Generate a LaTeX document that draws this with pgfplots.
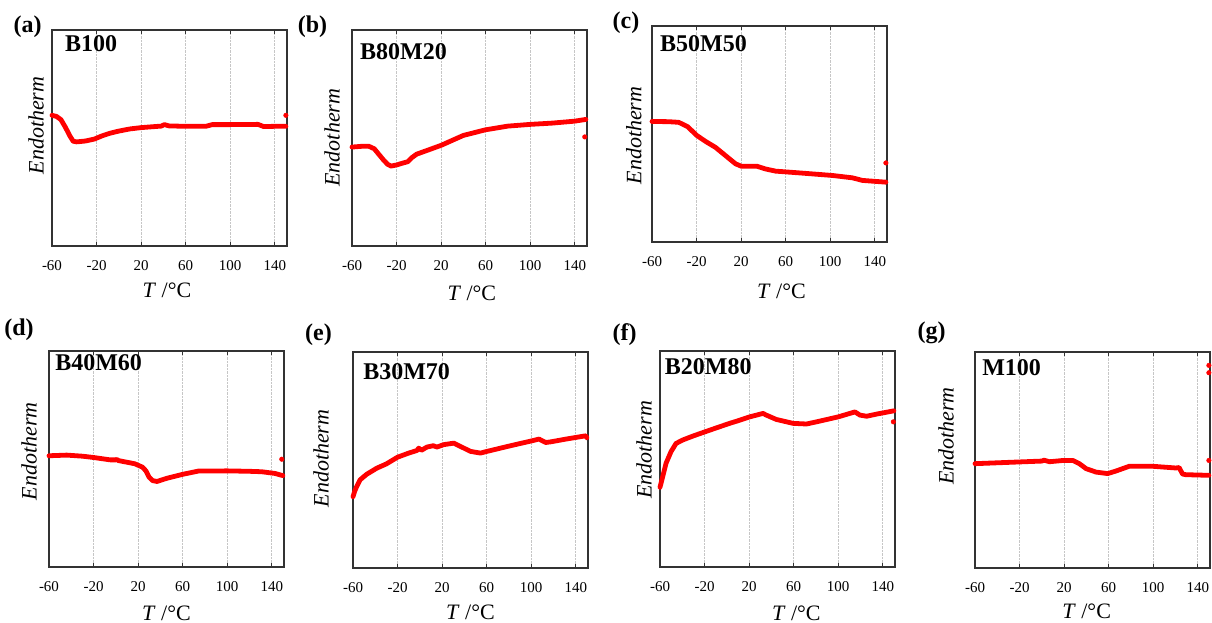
\documentclass[border=0pt]{standalone}
\usepackage{fontspec}
\setmainfont{Liberation Serif}
\usepackage{pgfplots}
\pgfplotsset{compat=1.18}
\pgfplotsset{
 dsc/.style={
  scale only axis, width=235pt, height=216pt, anchor=south west,
  xmin=-60, xmax=151, ymin=0, ymax=100,
  xtick={-60,-20,20,60,100,140}, xticklabels={-60,-20,20,60,100,140},
  ytick=\empty,
  xmajorgrids, grid style={densely dotted, gray!45, line width=0.6pt},
  tick align=inside, major tick length=4pt,
  axis line style={black!80, line width=1.3pt},
  every tick/.style={black!80, line width=0.8pt},
  tick label style={font=\fontsize{15}{17}\selectfont},
  xticklabel style={yshift=-11pt},
  label style={font=\fontsize{22}{26}\selectfont},
  xlabel={\textit{T} /°C},
  ylabel={\textit{Endotherm}},
  clip=false,
 },
 curve/.style={red, line width=4.8pt, line join=round, line cap=round},
 stray/.style={red, only marks, mark=*, mark size=2.3pt},
}
\tikzset{sname/.style={font=\bfseries\fontsize{24}{28}\selectfont, anchor=west, inner sep=0pt}}
\newcommand{\plabel}[3]{\node[font=\bfseries\fontsize{24}{28}\selectfont, anchor=center] at (#1pt,#2pt) {#3};}
\begin{document}
\begin{tikzpicture}
\path[use as bounding box] (0,0) rectangle (1212pt,623pt);
% (a)
\begin{axis}[dsc, at={(52pt,377pt)},
  xlabel style={at={(axis description cs:0.489,-0.203)}, anchor=center},
  ylabel style={at={(axis description cs:-0.068,0.558)}, anchor=center}]
\addplot[curve] coordinates {(-60,60.5) (-56,60) (-52,58.5) (-48,55) (-44,51) (-41,48.5) (-38,48.2) (-30,48.6) (-22,49.5) (-15,51) (-8,52.2) (0,53.2) (10,54.2) (20,54.8) (30,55.2) (38,55.5) (41,56.2) (45,55.6) (60,55.4) (78,55.4) (84,56.2) (100,56.2) (125,56.3) (130,55.3) (140,55.4) (150,55.4)};
\addplot[stray] coordinates {(150,60.5)};
\node[sname] at (rel axis cs:0.055,0.935) {B100};
\end{axis}
% (b)
\begin{axis}[dsc, at={(352pt,377pt)},
  xlabel style={at={(axis description cs:0.51,-0.221)}, anchor=center},
  ylabel style={at={(axis description cs:-0.085,0.502)}, anchor=center}]
\addplot[curve] coordinates {(-60,45.8) (-50,46.2) (-45,46.2) (-40,45) (-36,42.5) (-32,40) (-28,37.8) (-25,37) (-20,37.5) (-15,38.3) (-10,39) (-6,41) (-2,42.5) (5,43.8) (20,46.6) (40,51.2) (60,53.8) (80,55.5) (100,56.3) (120,56.9) (140,57.8) (150,58.6)};
\addplot[stray] coordinates {(149,50.5)};
\node[sname] at (rel axis cs:0.034,0.90) {B80M20};
\end{axis}
% (c)
\begin{axis}[dsc, at={(652pt,381pt)},
  xlabel style={at={(axis description cs:0.551,-0.23)}, anchor=center},
  ylabel style={at={(axis description cs:-0.077,0.493)}, anchor=center}]
\addplot[curve] coordinates {(-60,55.8) (-45,55.7) (-36,55.4) (-28,53.4) (-20,49.4) (-12,46.6) (-3,43.8) (6,40) (15,36.2) (20,35.1) (34,35.1) (42,33.8) (51,32.8) (72,32) (102,30.8) (120,29.7) (129,28.5) (150,27.7)};
\addplot[stray] coordinates {(150,36.6)};
\node[sname] at (rel axis cs:0.034,0.917) {B50M50};
\end{axis}
% (d)
\begin{axis}[dsc, at={(49pt,56pt)},
  xlabel style={at={(axis description cs:0.5,-0.214)}, anchor=center},
  ylabel style={at={(axis description cs:-0.085,0.535)}, anchor=center}]
\addplot[curve] coordinates {(-60,51.5) (-44,51.8) (-30,51.3) (-20,50.7) (-5,49.6) (0,49.6) (1,49.9) (2,49.3) (10,48.5) (17,47.8) (24,46.2) (27,44.5) (30,41.5) (33,40) (37,39.6) (46,41.1) (60,42.9) (74,44.4) (100,44.5) (120,44.3) (131,44.1) (143,43.3) (150,42.3)};
\addplot[stray] coordinates {(149,49.9)};
\node[sname] at (rel axis cs:0.026,0.945) {B40M60};
\end{axis}
% (e)
\begin{axis}[dsc, at={(353pt,55pt)},
  xlabel style={at={(axis description cs:0.5,-0.205)}, anchor=center},
  ylabel style={at={(axis description cs:-0.136,0.507)}, anchor=center}]
\addplot[curve] coordinates {(-60,33) (-58.5,35.5) (-56.7,37.7) (-53.7,40.8) (-47.7,43.4) (-38.7,46.2) (-30,48.2) (-20,51.3) (-10,53.2) (-2.6,54.4) (-1,55.5) (1.5,54.5) (6.4,56) (12,56.6) (15.4,56) (21.4,57.1) (30.4,57.8) (36.4,56.3) (45.4,54) (54.4,53.2) (60.4,54) (81.4,56.6) (102.5,59.1) (107,59.7) (113,58.1) (117.5,58.4) (132.5,59.8) (149,61.2) (150,60.3)};
\node[sname] at (rel axis cs:0.043,0.91) {B30M70};
\end{axis}
% (f)
\begin{axis}[dsc, at={(660pt,56pt)},
  xlabel style={at={(axis description cs:0.58,-0.213)}, anchor=center},
  ylabel style={at={(axis description cs:-0.068,0.542)}, anchor=center}]
\addplot[curve] coordinates {(-60,36.9) (-57.6,41.8) (-54.6,48) (-50.1,53.4) (-45.6,57.2) (-39.6,58.8) (-30,60.7) (-19.5,62.6) (-10,64.3) (2.5,66.5) (10,67.7) (20.5,69.5) (32.5,71.1) (35.5,70.3) (44.5,68.3) (59.5,66.5) (71.5,66.2) (80.5,67.2) (100,69.5) (115,71.8) (119.6,70.3) (125.6,69.8) (134.6,70.8) (150,72.3)};
\addplot[stray] coordinates {(149.5,67.2)};
\node[sname] at (rel axis cs:0.02,0.926) {B20M80};
\end{axis}
% (g)
\begin{axis}[dsc, at={(975pt,55pt)},
  xlabel style={at={(axis description cs:0.475,-0.2)}, anchor=center},
  ylabel style={at={(axis description cs:-0.123,0.611)}, anchor=center}]
\addplot[curve] coordinates {(-60,48.3) (-40,48.7) (-20,49.1) (0,49.5) (2,49.9) (6.9,49.2) (19.4,49.8) (27.8,49.8) (33.7,48.3) (39.7,46) (48.7,44.4) (59.1,43.7) (66.6,44.9) (78.5,47.1) (99.4,47.1) (120.3,46.3) (123.3,46.5) (126.3,43.5) (129.3,43.2) (150,42.9)};
\addplot[stray] coordinates {(150,93.8) (150,90.4) (150,49.8)};
\node[sname] at (rel axis cs:0.03,0.926) {M100};
\end{axis}
\plabel{27.5}{596}{(a)}
\plabel{312.5}{596}{(b)}
\plabel{626}{600}{(c)}
\plabel{19}{293}{(d)}
\plabel{318.5}{288}{(e)}
\plabel{624.5}{288}{(f)}
\plabel{931.5}{290}{(g)}
\end{tikzpicture}
\end{document}
